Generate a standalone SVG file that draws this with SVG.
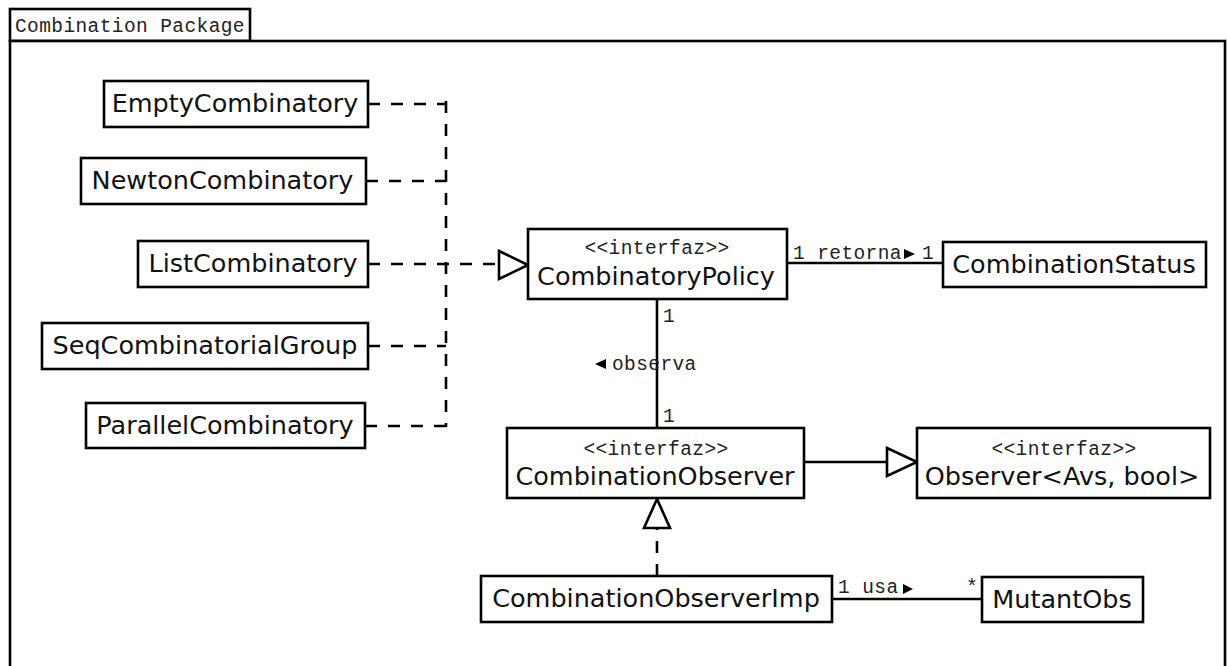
<svg xmlns="http://www.w3.org/2000/svg" width="1227" height="666" viewBox="0 0 1227 666">
  <defs>
    <style>
      .box { fill: #fff; stroke: #000; stroke-width: 2.6; }
      .name { font-family: "DejaVu Sans", Verdana, sans-serif; font-size: 25.5px; fill: #111; text-anchor: middle; }
      .mono { font-family: "Liberation Mono", "Courier New", monospace; font-size: 19.5px; letter-spacing: 0.4px; fill: #222; }
      .stereo { text-anchor: middle; }
      .solid { fill: none; stroke: #000; stroke-width: 2.6; }
      .dash { fill: none; stroke: #000; stroke-width: 2.6; stroke-dasharray: 12 11; }
      .tri { fill: #fff; stroke: #000; stroke-width: 2.6; stroke-linejoin: miter; }
      .dir { fill: #000; }
    </style>
  </defs>
  <rect width="1227" height="666" fill="#fff"/>

  <!-- package frame -->
  <g id="package">
    <rect class="box" x="10" y="9" width="240" height="32"/>
    <rect class="box" x="10" y="41" width="1215" height="640" fill="none"/>
    <text class="mono" x="15" y="32">Combination Package</text>
  </g>

  <!-- connectors -->
  <g id="connectors">
    <!-- realizations of CombinatoryPolicy -->
    <line class="dash" x1="368" y1="104" x2="446" y2="104"/>
    <line class="dash" x1="366" y1="181" x2="446" y2="181"/>
    <line class="dash" x1="368" y1="264" x2="499" y2="264"/>
    <line class="dash" x1="368" y1="346" x2="446" y2="346"/>
    <line class="dash" x1="365" y1="426" x2="446" y2="426"/>
    <line class="dash" x1="446" y1="101" x2="446" y2="427"/>
    <polygon class="tri" points="499,251 528,265 499,279"/>

    <!-- CombinatoryPolicy - CombinationStatus -->
    <line class="solid" x1="787" y1="263" x2="943" y2="263"/>
    <text class="mono" x="793" y="259">1 retorna</text>
    <polygon class="dir" points="904,249 915,254 904,259"/>
    <text class="mono" x="922" y="259">1</text>

    <!-- CombinatoryPolicy - CombinationObserver -->
    <line class="solid" x1="657" y1="299" x2="657" y2="428"/>
    <text class="mono" x="663" y="322">1</text>
    <polygon class="dir" points="606,359 595,364 606,369"/>
    <text class="mono" x="612" y="370">observa</text>
    <text class="mono" x="663" y="422">1</text>

    <!-- CombinationObserver extends Observer -->
    <line class="solid" x1="804" y1="462" x2="887" y2="462"/>
    <polygon class="tri" points="887,448 917,462 887,476"/>

    <!-- CombinationObserverImp realizes CombinationObserver -->
    <line class="dash" x1="657" y1="576" x2="657" y2="528" stroke-dasharray="11 8"/>
    <polygon class="tri" points="644,528 657,499 670,528"/>

    <!-- CombinationObserverImp - MutantObs -->
    <line class="solid" x1="832" y1="599" x2="982" y2="599"/>
    <text class="mono" x="838" y="593">1 usa</text>
    <polygon class="dir" points="903,584 913,589 903,594"/>
    <text class="mono" x="966" y="593">*</text>
  </g>

  <!-- nodes -->
  <g id="EmptyCombinatory">
    <rect class="box" x="104" y="81" width="264" height="46"/>
    <text class="name" x="235" y="112">EmptyCombinatory</text>
  </g>
  <g id="NewtonCombinatory">
    <rect class="box" x="81" y="158" width="285" height="46"/>
    <text class="name" x="222.5" y="189">NewtonCombinatory</text>
  </g>
  <g id="ListCombinatory">
    <rect class="box" x="138" y="241" width="230" height="46"/>
    <text class="name" x="253" y="272">ListCombinatory</text>
  </g>
  <g id="SeqCombinatorialGroup">
    <rect class="box" x="42" y="323" width="326" height="46"/>
    <text class="name" x="205" y="354">SeqCombinatorialGroup</text>
  </g>
  <g id="ParallelCombinatory">
    <rect class="box" x="86" y="403" width="279" height="45"/>
    <text class="name" x="225" y="434">ParallelCombinatory</text>
  </g>
  <g id="CombinatoryPolicy">
    <rect class="box" x="528" y="229" width="259" height="70"/>
    <text class="mono stereo" x="657" y="254">&lt;&lt;interfaz&gt;&gt;</text>
    <text class="name" x="656" y="285">CombinatoryPolicy</text>
  </g>
  <g id="CombinationStatus">
    <rect class="box" x="943" y="242" width="263" height="45"/>
    <text class="name" x="1074" y="273">CombinationStatus</text>
  </g>
  <g id="CombinationObserver">
    <rect class="box" x="507" y="428" width="297" height="70"/>
    <text class="mono stereo" x="656" y="455">&lt;&lt;interfaz&gt;&gt;</text>
    <text class="name" x="655" y="485">CombinationObserver</text>
  </g>
  <g id="Observer">
    <rect class="box" x="917" y="428" width="293" height="70"/>
    <text class="mono stereo" x="1064" y="455">&lt;&lt;interfaz&gt;&gt;</text>
    <text class="name" x="1062" y="485">Observer&lt;Avs, bool&gt;</text>
  </g>
  <g id="CombinationObserverImp">
    <rect class="box" x="481" y="576" width="351" height="46"/>
    <text class="name" x="656" y="607">CombinationObserverImp</text>
  </g>
  <g id="MutantObs">
    <rect class="box" x="982" y="577" width="161" height="45"/>
    <text class="name" x="1062" y="608">MutantObs</text>
  </g>
</svg>
